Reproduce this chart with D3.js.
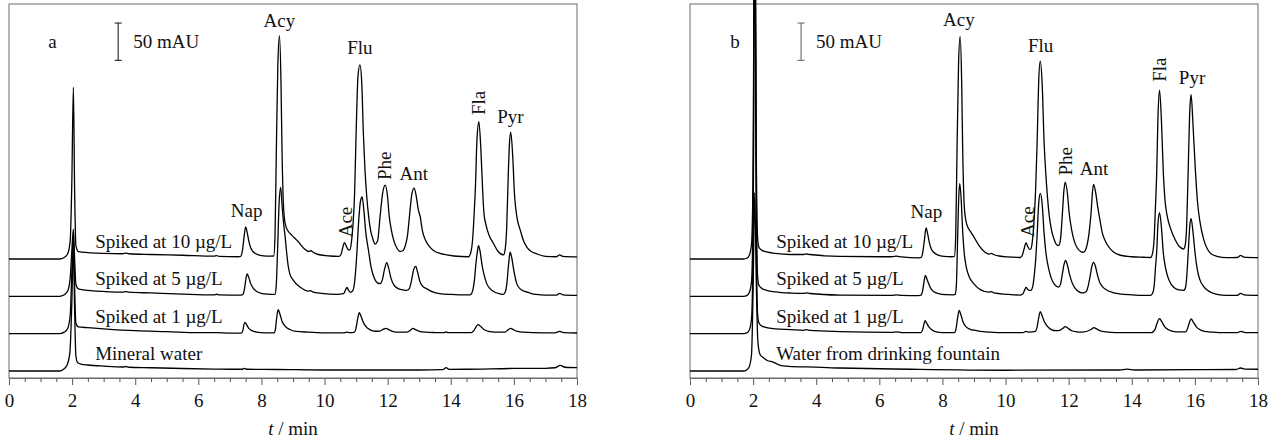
<!DOCTYPE html>
<html><head><meta charset="utf-8">
<script src="https://cdn.jsdelivr.net/npm/d3@7"></script>
<style>html,body{margin:0;padding:0;background:#fff}svg{display:block}</style>
</head><body><svg id="c" width="1277" height="443"></svg>
<script>
// ---------------- DATA (t in min, signal in mAU relative to each trace's own baseline) ----------------
const majorTicks = [0, 2, 4, 6, 8, 10, 12, 14, 16, 18];
const minorTicks = [0.5,1,1.5,2.5,3,3.5,4.5,5,5.5,6.5,7,7.5,8.5,9,9.5,10.5,11,11.5,12.5,13,13.5,14.5,15,15.5,16.5,17,17.5];
const seriesNames = ["Spiked at 10 \u00b5g/L", "Spiked at 5 \u00b5g/L", "Spiked at 1 \u00b5g/L"];
const blankNames = ["Mineral water", "Water from drinking fountain"];
const panelLetters = ["a", "b"];
const traceOffsets = [150, 100, 50, 0];          // mAU stacking offsets
const scaleBarMAU = 50;
const peakNames = ["Nap", "Acy", "Ace", "Flu", "Phe", "Ant", "Fla", "Pyr"];

const a10 = [[0,0],[1.6,0],[1.75,2],[1.86,7],[1.94,25],[1.99,100],[2.04,230],[2.08,90],[2.12,18],[2.2,10],[2.5,8.5],[3.0,7.5],[3.6,7],[3.7,7.8],[3.8,7],[4.5,6],[5.5,5],[6.5,3.7],[6.58,4.5],[6.66,3.5],[7.25,3],
 [7.34,3.5],[7.4,12],[7.45,30],[7.5,43],[7.55,35],[7.6,24],[7.66,15],[7.73,10],[7.85,6.5],[8.0,4.5],[8.3,3.8],
 [8.39,4],[8.43,30],[8.47,140],[8.52,260],[8.57,299],[8.62,235],[8.65,150],[8.7,70],[8.75,48],[8.82,39],[8.96,32],[9.17,23],[9.35,14],[9.5,10],[9.57,11],[9.64,9],[9.8,6],[10.17,4],[10.45,3.5],
 [10.52,6],[10.57,14],[10.63,22],[10.69,17],[10.75,12.5],[10.8,12],
 [10.85,22],[10.9,45],[10.95,85],[11.0,168],[11.06,245],[11.12,260],[11.18,235],[11.23,168],[11.28,120],[11.34,82],[11.4,56],[11.46,38],[11.53,27],[11.6,20],
 [11.68,24],[11.76,57],[11.84,88],[11.92,99],[11.99,86],[12.05,57],[12.12,38],[12.2,24],[12.3,14],[12.39,10],
 [12.48,11],[12.56,18],[12.63,32],[12.69,57],[12.77,88],[12.84,95],[12.91,83],[12.97,66],[13.03,57],[13.1,38],[13.2,25],[13.34,16],[13.5,10],[13.66,7.6],[14.1,4],[14.56,3],
 [14.63,8],[14.69,25],[14.74,60],[14.78,95],[14.83,160],[14.89,184],[14.95,150],[15.01,92],[15.05,62],[15.12,45],[15.22,31],[15.35,21],[15.5,10],[15.67,5.4],
 [15.72,12],[15.77,40],[15.82,110],[15.86,155],[15.9,170],[15.96,140],[16.02,86],[16.1,55],[16.2,39],[16.3,25],[16.41,16],[16.55,10],[16.73,6.7],[17.0,3.5],[17.35,3],[17.45,5.4],[17.55,3.5],[18,2.7]];

const a5 = [[0,0],[1.6,0],[1.75,2],[1.86,7],[1.94,25],[1.99,60],[2.04,90],[2.08,50],[2.12,16],[2.2,10],[2.5,8],[3.0,6.5],[3.6,5.5],[3.7,6.3],[3.8,5.5],[4.5,4.5],[5.5,3],[6.5,2],[6.58,2.8],[6.66,2],[7.35,1.5],
 [7.42,3],[7.47,12],[7.51,24],[7.55,30],[7.6,25],[7.66,17],[7.74,11],[7.85,6.5],[8.0,4],[8.2,3],[8.4,2.7],
 [8.43,2.7],[8.47,15],[8.51,60],[8.56,125],[8.61,146],[8.66,118],[8.71,95],[8.75,80],[8.8,58],[8.85,40],[8.9,30],[9.0,22],[9.22,12.5],[9.5,7],[9.56,7.5],[9.62,6],[9.9,4],[10.4,2.7],
 [10.6,3.5],[10.66,8],[10.71,12],[10.76,8],[10.82,5.4],
 [10.9,8],[10.96,22],[11.02,55],[11.08,100],[11.14,128],[11.19,133],[11.24,118],[11.3,88],[11.39,62],[11.48,38],[11.58,24],[11.68,18],[11.76,17],
 [11.83,22],[11.9,36],[11.97,45],[12.03,38],[12.1,25],[12.2,15],[12.35,10],[12.5,8.5],[12.6,8],
 [12.68,10],[12.75,20],[12.82,35],[12.89,40],[12.95,32],[13.02,20],[13.1,14],[13.24,10],[13.45,5.5],[13.66,3.6],[14.0,2.5],[14.58,1.8],
 [14.63,2.5],[14.69,7],[14.75,22],[14.8,45],[14.85,62],[14.88,68],[14.93,60],[14.99,42],[15.06,28],[15.14,17],[15.25,10],[15.4,5.5],[15.55,3.5],[15.67,2.7],
 [15.73,6],[15.78,18],[15.83,42],[15.88,59],[15.93,52],[16.0,34],[16.09,17],[16.2,10],[16.35,6.5],[16.51,4.4],[16.7,2.5],[17.0,1.5],[17.35,1.5],[17.45,4],[17.55,2],[18,1.3]];

const a1 = [[0,0],[1.6,0],[1.75,2],[1.86,7],[1.94,25],[1.99,80],[2.04,131],[2.08,60],[2.12,14],[2.2,9],[2.5,8],[3.0,6.5],[4.0,4],[5.0,2.7],[6.0,1.3],[6.58,1.5],[7.0,0.6],[7.36,0.7],
 [7.41,4],[7.44,11],[7.48,15],[7.53,12],[7.6,7],[7.7,4],[7.85,2],[8.1,1],[8.4,1],
 [8.44,5],[8.48,20],[8.53,32],[8.58,27],[8.65,17],[8.75,10],[8.9,5.5],[9.1,3],[9.5,2],[10.0,1],[10.6,1],
 [10.7,2],[10.8,1.3],
 [10.95,2],[11.0,8],[11.05,20],[11.1,28],[11.15,24],[11.22,16],[11.32,9],[11.45,5],[11.6,3.2],[11.75,3.5],
 [11.87,6],[11.95,7],[12.03,5.5],[12.15,3.2],[12.35,2],[12.6,2],
 [12.72,4.5],[12.8,7],[12.88,5.5],[13.0,3.2],[13.2,2],[13.5,1.5],[13.78,1.3],[13.85,2.2],[13.92,1.3],[14.65,1.3],
 [14.73,4],[14.8,9],[14.87,12],[14.95,9.5],[15.05,5.5],[15.2,3],[15.4,2],[15.72,2],
 [15.81,5],[15.9,7],[15.98,5.5],[16.1,3],[16.3,2],[16.6,1.3],[17.3,1],[17.45,3],[17.6,1.3],[18,0.9]];

const aBlank = [[0,0],[1.6,0],[1.72,2],[1.84,8],[1.93,25],[1.99,90],[2.04,175],[2.08,80],[2.12,20],[2.18,11],[2.3,9],[2.5,8],[3.0,6.5],[3.6,5.3],[3.7,6],[3.8,5],[4.5,4.3],[5.5,3.3],[6.5,2.6],[7.0,2.3],[7.38,2.3],[7.46,3.5],[7.54,2.3],[8.5,2],[10,1.3],[13.0,1.3],[13.75,1.8],[13.85,4.5],[13.95,2.2],[14.5,2.3],[16.0,3.4],[17.0,3.6],[17.3,4.3],[17.47,7.5],[17.62,5],[18,4.4]];

const b10 = [[0,0],[1.7,0],[1.8,1],[1.88,5],[1.95,20],[2.0,120],[2.05,600],[2.1,150],[2.14,30],[2.18,16],[2.25,12.5],[2.43,9.4],[2.7,7.5],[3.17,6],[3.6,6],[3.7,6.7],[3.8,6],[4.75,3.4],[6.4,3],[6.55,3.7],[6.7,2.7],[7.25,1.5],
 [7.33,2],[7.38,10],[7.43,26],[7.48,41.5],[7.53,34],[7.58,23],[7.64,14],[7.72,9],[7.85,5.5],[8.05,3.5],[8.3,3],
 [8.38,3.5],[8.42,30],[8.46,140],[8.51,260],[8.56,298],[8.61,235],[8.64,150],[8.69,72],[8.74,52],[8.8,43],[8.9,36],[8.99,30],[9.16,18],[9.35,9],[9.48,6.5],[9.55,7.5],[9.62,6],[9.8,4],[10.04,2.7],[10.47,2],
 [10.54,6],[10.59,14],[10.65,21.4],[10.7,17],[10.76,13],[10.8,13.4],
 [10.85,24],[10.9,50],[10.95,90],[11.0,155],[11.05,238],[11.1,265],[11.16,235],[11.22,158],[11.27,118],[11.33,82],[11.39,56],[11.46,38],[11.54,26],[11.62,19],
 [11.68,18],[11.74,26],[11.8,60],[11.85,92],[11.89,103],[11.96,88],[12.02,60],[12.09,40],[12.17,25],[12.27,15],[12.38,10],[12.45,9],
 [12.52,11],[12.59,20],[12.65,36],[12.71,62],[12.76,92],[12.79,100],[12.86,88],[12.92,70],[12.98,55],[13.06,36],[13.14,26],[13.21,20],[13.4,10],[13.64,5],[14.0,3],[14.38,2.3],[14.6,2],
 [14.66,8],[14.71,28],[14.75,70],[14.79,115],[14.83,190],[14.88,226],[14.94,185],[15.0,115],[15.05,80],[15.12,58],[15.22,42],[15.35,28],[15.5,17],[15.64,13.4],
 [15.69,18],[15.74,45],[15.79,123],[15.84,200],[15.88,220],[15.94,180],[16.01,123],[16.08,78],[16.16,50],[16.28,26],[16.4,13],[16.5,7.5],[16.7,3.5],[17.0,1.7],[17.35,2],[17.45,4.7],[17.55,2.5],[18,1.7]];

const b5 = [[0,0],[1.7,0],[1.8,1],[1.88,5],[1.95,20],[2.0,120],[2.05,600],[2.1,150],[2.14,28],[2.18,15],[2.25,11.5],[2.43,8],[2.7,6],[3.2,4.4],[3.6,4],[3.7,4.7],[3.8,3.8],[4.75,1.7],[6.4,1.2],[6.55,2],[6.7,1.2],[7.25,0.9],
 [7.32,1.5],[7.37,7],[7.41,18],[7.46,28],[7.51,23],[7.57,16],[7.64,10],[7.73,6],[7.88,3.5],[8.1,2.2],[8.35,2],
 [8.4,2.5],[8.44,14],[8.48,75],[8.51,125],[8.55,151],[8.6,125],[8.64,88],[8.69,58],[8.75,40],[8.85,26],[8.99,17],[9.2,9],[9.48,5.5],[9.55,6.3],[9.63,4.5],[10.04,2.7],[10.45,1.7],
 [10.55,3.5],[10.6,8],[10.65,12],[10.7,9.5],[10.76,8],[10.8,8],
 [10.86,13],[10.91,28],[10.96,52],[11.0,82],[11.05,124],[11.1,138],[11.16,124],[11.22,85],[11.28,58],[11.36,38],[11.45,24],[11.55,16],[11.68,12.4],
 [11.74,16],[11.8,30],[11.85,42],[11.9,48],[11.96,42],[12.03,29],[12.11,18],[12.2,11],[12.33,6],[12.45,4.5],
 [12.55,6],[12.62,14],[12.68,27],[12.74,41],[12.79,45.5],[12.85,40],[12.91,29],[12.98,19],[13.07,13],[13.2,8.5],[13.4,5],[13.6,3.4],[14.0,2],[14.4,1.3],[14.6,1.3],
 [14.66,4],[14.71,14],[14.75,38],[14.79,60],[14.83,97],[14.88,112],[14.94,92],[15.0,58],[15.07,38],[15.15,25],[15.25,16],[15.38,10.5],[15.5,8.5],[15.64,8],
 [15.69,10],[15.74,25],[15.79,60],[15.84,95],[15.88,104],[15.94,86],[16.01,56],[16.08,35],[16.16,22],[16.28,13],[16.4,8],[16.5,5.5],[16.7,2.7],[17.0,1.3],[17.35,1.3],[17.45,4],[17.55,2],[18,1.3]];

const b1 = [[0,0],[1.7,0],[1.8,1],[1.88,5],[1.95,20],[2.0,120],[2.05,600],[2.1,150],[2.14,28],[2.18,15],[2.25,11],[2.43,8],[2.7,6.5],[3.2,5.4],[3.6,4.5],[3.7,5.3],[3.8,4.3],[4.75,2.7],[6.4,1.7],[6.55,2.5],[6.7,1.5],[7.2,1.3],[7.32,1.3],
 [7.37,5],[7.41,12],[7.45,17.4],[7.5,14],[7.57,9],[7.67,5],[7.8,2.5],[8.0,1.5],[8.38,1.3],
 [8.43,6],[8.48,21],[8.53,31],[8.58,26],[8.65,16],[8.75,9],[8.9,5.4],[9.0,4.7],[9.2,3],[9.5,2],[10.0,1.3],[10.55,1.3],
 [10.65,3],[10.75,2],
 [10.95,3],[11.0,9],[11.05,21],[11.1,29.5],[11.15,25],[11.22,17],[11.32,10],[11.45,5.5],[11.6,4],[11.72,4.5],
 [11.81,7],[11.89,9.4],[11.97,7.5],[12.08,4.2],[12.25,2.5],[12.42,2],
 [12.71,5.5],[12.8,8],[12.88,6.5],[13.0,3.8],[13.2,2.3],[13.5,1.5],[14.0,1.3],[14.62,1.3],
 [14.73,5],[14.8,14],[14.88,20],[14.95,16],[15.04,9.5],[15.15,5.5],[15.3,3],[15.5,2.3],[15.7,2.5],
 [15.76,6],[15.82,14],[15.88,19.7],[15.95,15.5],[16.04,9.5],[16.15,5.5],[16.3,3],[16.55,2],[17.0,1.3],[17.35,1.3],[17.45,3],[17.6,1.5],[18,1.3]];

const bBlank = [[0,0],[1.7,0],[1.78,1],[1.87,5],[1.95,22],[2.0,110],[2.05,239],[2.1,120],[2.15,40],[2.22,22],[2.3,18.7],[2.45,14],[2.63,12],[2.78,9],[2.95,6.7],[3.5,5.4],[3.7,5.4],[4.75,4],[7.0,2.3],[10.0,1],[13.6,1.3],[13.85,2.5],[14.1,1.3],[16,1.7],[17.3,2],[17.45,4],[17.6,2.5],[18,2.3]];

// ---------------- LAYOUT ----------------
const W = 1277, H = 443;
const plotTop = 4, plotBottom = 378;
const FONT = '"Liberation Serif","Times New Roman",Times,serif';
const FS = 19;
// peak label anchors in data coords [t, mAU] and rotation flags (layout)
const peakRot = [false, false, true, false, true, false, true, false];
const peakPosA = [[7.53,206.6],[8.57,460.7],[10.885,179],[11.12,424.5],[12.12,255.8],[12.825,255.8],[15.08,342.8],[15.89,331.7]];
const peakPosB = [[7.49,204.5],[8.52,462],[10.9,179.5],[11.11,427.2],[12.12,261.8],[12.8,262.5],[15.08,387.4],[15.91,384.4]];

const panels = [
  {left: 9,   right: 577,  traces: [a10, a5, a1, aBlank], blank: blankNames[0], letter: panelLetters[0], letterT: 1.38, barT: 3.46, barColor: "#333", peakPos: peakPosA},
  {left: 690, right: 1258, traces: [b10, b5, b1, bBlank], blank: blankNames[1], letter: panelLetters[1], letterT: 1.43, barT: 3.52, barColor: "#777", peakPos: peakPosB}
];

const svg = d3.select("#c");
svg.append("rect").attr("width", W).attr("height", H).attr("fill", "#fff");

panels.forEach(p => {
  const x = d3.scaleLinear().domain([0, 18]).range([p.left, p.right]);
  const y = d3.scaleLinear().domain([-9.4, 491.5]).range([plotBottom, plotTop]);
  const g = svg.append("g");

  // frame
  g.append("rect").attr("x", p.left).attr("y", plotTop)
    .attr("width", p.right - p.left).attr("height", plotBottom - plotTop)
    .attr("fill", "none").attr("stroke", "#6a6a6a").attr("stroke-width", 1);

  // axes
  const ax = g.append("g").attr("transform", `translate(0,${plotBottom})`)
    .call(d3.axisBottom(x).tickValues(majorTicks).tickSize(7).tickPadding(8.5).tickFormat(d3.format("d")));
  const axm = g.append("g").attr("transform", `translate(0,${plotBottom})`)
    .call(d3.axisBottom(x).tickValues(minorTicks).tickSize(4).tickFormat(""));
  [ax, axm].forEach(a => {
    a.select(".domain").attr("stroke", "#6a6a6a");
    a.selectAll(".tick line").attr("stroke", "#555");
  });
  ax.selectAll(".tick text").attr("font-family", FONT).attr("font-size", FS).attr("fill", "#111");

  // x label
  const xl = g.append("text").attr("x", (p.left + p.right) / 2).attr("y", 435)
    .attr("text-anchor", "middle").attr("font-family", FONT).attr("font-size", FS).attr("fill", "#111");
  xl.append("tspan").attr("font-style", "italic").text("t");
  xl.append("tspan").text(" / min");

  // traces
  const line = d3.line().x(d => x(d[0])).y(d => y(d[1])).curve(d3.curveMonotoneX);
  p.traces.forEach((tr, i) => {
    g.append("path")
      .attr("d", line(tr.map(d => [d[0], d[1] + traceOffsets[i]])))
      .attr("fill", "none").attr("stroke", "#000").attr("stroke-width", 1.3)
      .attr("stroke-linejoin", "round");
  });

  // trace labels
  const names = seriesNames.concat([p.blank]);
  names.forEach((n, i) => {
    g.append("text").attr("x", x(2.73)).attr("y", y(traceOffsets[i] + 14.5))
      .attr("font-family", FONT).attr("font-size", FS).attr("fill", "#111").text(n);
  });

  // peak labels
  peakNames.forEach((n, i) => {
    const [t, v] = p.peakPos[i];
    const t0 = g.append("text").attr("font-family", FONT).attr("font-size", FS).attr("fill", "#111").text(n);
    if (peakRot[i]) {
      t0.attr("transform", `translate(${x(t)},${y(v)}) rotate(-90)`).attr("text-anchor", "start");
    } else {
      t0.attr("x", x(t)).attr("y", y(v)).attr("text-anchor", "middle");
    }
  });

  // panel letter
  g.append("text").attr("x", x(p.letterT)).attr("y", 48).attr("text-anchor", "middle")
    .attr("font-family", FONT).attr("font-size", FS).attr("fill", "#111").text(p.letter);

  // scale bar (50 mAU)
  const bx = x(p.barT), y1 = y(416), y2 = y(416 + scaleBarMAU);
  g.append("line").attr("x1", bx).attr("x2", bx).attr("y1", y1).attr("y2", y2).attr("stroke", p.barColor).attr("stroke-width", 1.2);
  [y1, y2].forEach(yy => g.append("line").attr("x1", bx - 3.5).attr("x2", bx + 3.5).attr("y1", yy).attr("y2", yy).attr("stroke", p.barColor).attr("stroke-width", 1.2));
  g.append("text").attr("x", bx + 15).attr("y", 48).attr("font-family", FONT).attr("font-size", FS).attr("fill", "#111")
    .text(scaleBarMAU + " mAU");
});
</script></body></html>
